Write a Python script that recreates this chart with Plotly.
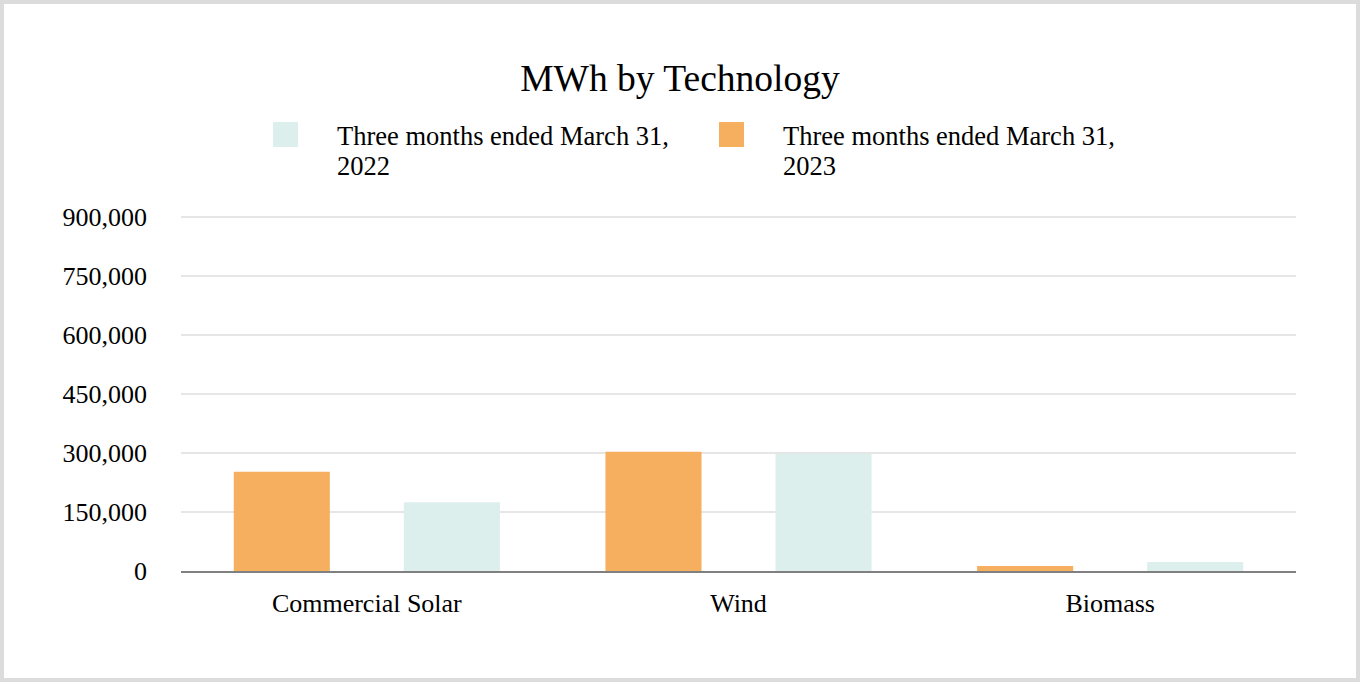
import plotly.graph_objects as go

# data
technologies = ["Commercial Solar", "Wind", "Biomass"]
period_2023 = "Three months ended March 31, 2023"
period_2022 = "Three months ended March 31, 2022"
mwh_2023 = [252000, 303000, 13000]
mwh_2022 = [175000, 298000, 23000]

ORANGE = "#F5AF5F"
TEAL = "#DCEFEC"
FONT = "Liberation Serif"

# plot area in pixels, used to place the hand-made legend and border
L, R, T, B = 181, 64, 215, 111
W, H = 1360, 682
PW, PH = W - L - R, H - T - B


def px_x(x):
    return (x - L) / PW


def px_y(y):
    return (H - B - y) / PH


fig = go.Figure()
fig.add_trace(go.Bar(x=technologies, y=mwh_2023, name=period_2023,
                     marker=dict(color=ORANGE, line_width=0), showlegend=False))
fig.add_trace(go.Bar(x=technologies, y=mwh_2022, name=period_2022,
                     marker=dict(color=TEAL, line_width=0), showlegend=False))

# legend: 2022 first, then 2023, with large square swatches and wrapped text
legend_items = [(period_2022, TEAL, 273), (period_2023, ORANGE, 719)]
for label, color, sx in legend_items:
    fig.add_shape(type="rect", xref="paper", yref="paper",
                  x0=px_x(sx), x1=px_x(sx + 25), y0=px_y(147), y1=px_y(122),
                  fillcolor=color, line_width=0)
    first, second = label.rsplit(" ", 1)
    for text, cy in ((first, 136), (second, 166)):
        fig.add_annotation(text=text, xref="paper", yref="paper",
                           x=px_x(sx + 62), y=px_y(cy), xanchor="left", yanchor="middle",
                           showarrow=False, font=dict(family=FONT, size=26.5, color="#000"))

# outer light grey frame
fig.add_shape(type="rect", xref="paper", yref="paper",
              x0=px_x(2), x1=px_x(W - 2), y0=px_y(H - 2), y1=px_y(2),
              line=dict(color="#DCDCDC", width=4), fillcolor="rgba(0,0,0,0)")

fig.update_layout(
    width=W, height=H,
    margin=dict(l=L, r=R, t=T, b=B),
    paper_bgcolor="white", plot_bgcolor="white",
    font=dict(family=FONT, size=26, color="#000"),
    title=dict(text="MWh by Technology", x=0.5, xanchor="center", xref="container",
               y=1 - 78 / H, yanchor="middle", font=dict(family=FONT, size=37.5, color="#000")),
    barmode="group", bargap=0.085, bargroupgap=0.435,
    showlegend=False,
)
fig.update_xaxes(showline=True, linecolor="#808080", linewidth=2, showgrid=False,
                 ticks="", ticklabelstandoff=8)
# top a little above 900,000 so its gridline is not clipped at the plot edge
fig.update_yaxes(range=[0, 905000], dtick=150000, tickformat=",", showgrid=True,
                 gridcolor="#E6E6E6", gridwidth=2, zeroline=False, ticks="",
                 ticklabelstandoff=33)

fig.write_html("out.html", config={"displayModeBar": False},
               post_script="document.body.style.margin='0';")
